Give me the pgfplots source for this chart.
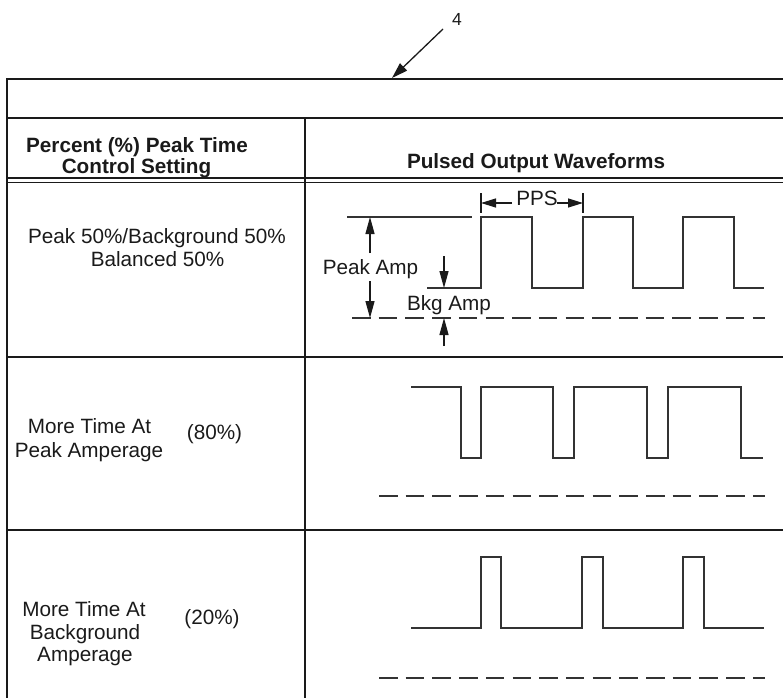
\documentclass[border=0pt]{standalone}
\usepackage{pgfplots}
\pgfplotsset{compat=1.18}
\usepackage{fontspec}
\setmainfont{Liberation Sans}
\usetikzlibrary{arrows.meta}
\definecolor{ink}{HTML}{1A1A1A}
\definecolor{wave}{HTML}{333333}
\newcommand{\txt}{\fontsize{20.7}{24}\selectfont}
\begin{document}
\begin{tikzpicture}
\begin{axis}[x=1pt, y=1pt, xmin=0, xmax=783, ymin=0, ymax=698, y dir=reverse,
  hide axis, clip=false]
\coordinate (BL) at (axis cs:0,698);
\coordinate (TR) at (axis cs:783,0);
% table frame
\addplot[ink, line width=1.5pt] coordinates {(7,79) (783,79)};
\addplot[ink, line width=1.5pt] coordinates {(7,118) (783,118)};
\addplot[ink, line width=1.3pt] coordinates {(7,178) (783,178)};
\addplot[ink, line width=1.3pt] coordinates {(7,182.5) (783,182.5)};
\addplot[ink, line width=1.5pt] coordinates {(7,357) (783,357)};
\addplot[ink, line width=1.5pt] coordinates {(7,530) (783,530)};
\addplot[ink, line width=1.5pt] coordinates {(7,78.3) (7,698)};
\addplot[ink, line width=1.5pt] coordinates {(305,118) (305,698)};
% reference arrow 4
\addplot[ink, line width=1.3pt, -{Triangle[length=16pt,width=10pt]}] coordinates {(443,29) (392,78)};
\node[font=\fontsize{17.5}{19}\selectfont, text=ink] at (axis cs:457,19) {4};
% headers
\node[anchor=base, font=\txt\bfseries, text=ink, inner sep=0pt] at (axis cs:137,152) {Percent (\%) Peak Time};
\node[anchor=base, font=\txt\bfseries, text=ink, inner sep=0pt] at (axis cs:136.5,173) {Control Setting};
\node[anchor=base, font=\txt\bfseries, text=ink, inner sep=0pt] at (axis cs:536,168) {Pulsed Output Waveforms};
% left column text
\node[anchor=base, font=\txt, text=ink, inner sep=0pt] at (axis cs:157,243) {Peak 50\%/Background 50\%};
\node[anchor=base, font=\txt, text=ink, inner sep=0pt] at (axis cs:157.5,266) {Balanced 50\%};
\node[anchor=base, font=\txt, text=ink, inner sep=0pt] at (axis cs:89.5,433) {More Time At};
\node[anchor=base, font=\txt, text=ink, inner sep=0pt] at (axis cs:89,457) {Peak Amperage};
\node[anchor=base, font=\txt, text=ink, inner sep=0pt] at (axis cs:214.5,439) {(80\%)};
\node[anchor=base, font=\txt, text=ink, inner sep=0pt] at (axis cs:84,616) {More Time At};
\node[anchor=base, font=\txt, text=ink, inner sep=0pt] at (axis cs:85,639) {Background};
\node[anchor=base, font=\txt, text=ink, inner sep=0pt] at (axis cs:85,661) {Amperage};
\node[anchor=base, font=\txt, text=ink, inner sep=0pt] at (axis cs:212,624) {(20\%)};
% waveform row 1
\addplot[wave, line width=1.2pt] coordinates {(347,217) (472,217)};
\addplot[wave, line width=1.2pt] coordinates {(427,288) (481,288) (481,217) (532,217) (532,288) (583,288) (583,217) (633,217) (633,288) (683,288) (683,217) (734,217) (734,288) (764,288)};
\addplot[wave, line width=1.2pt, dash pattern=on 18.5pt off 8.2pt] coordinates {(352,318) (765,318)};
% annotations row 1
\addplot[ink, line width=1.3pt, -{Triangle[length=17pt,width=9pt]}] coordinates {(370,253) (370,217)};
\addplot[ink, line width=1.3pt, -{Triangle[length=17pt,width=9pt]}] coordinates {(370,281) (370,318)};
\addplot[ink, line width=1.3pt, -{Triangle[length=17pt,width=9pt]}] coordinates {(444,256) (444,288)};
\addplot[ink, line width=1.3pt, -{Triangle[length=17pt,width=9pt]}] coordinates {(444,346) (444,318)};
\addplot[ink, line width=1.2pt] coordinates {(481,193) (481,213)};
\addplot[ink, line width=1.2pt] coordinates {(583,193) (583,213)};
\addplot[ink, line width=1.3pt, -{Triangle[length=15pt,width=9pt]}] coordinates {(512,203) (481,203)};
\addplot[ink, line width=1.3pt, -{Triangle[length=15pt,width=9pt]}] coordinates {(557,203) (583,203)};
\node[anchor=base, font=\txt, text=ink, inner sep=0pt] at (axis cs:370.5,274) {Peak Amp};
\node[anchor=base, font=\txt, text=ink, inner sep=0pt] at (axis cs:449,310) {Bkg Amp};
\node[anchor=base, font=\txt, text=ink, inner sep=0pt] at (axis cs:537,205) {PPS};
% waveform row 2
\addplot[wave, line width=1.2pt] coordinates {(411,387) (461,387) (461,458) (481,458) (481,387) (553,387) (553,458) (574,458) (574,387) (647,387) (647,458) (668,458) (668,387) (741,387) (741,458) (763,458)};
\addplot[wave, line width=1.2pt, dash pattern=on 18.5pt off 8.2pt] coordinates {(379,496) (765,496)};
% waveform row 3
\addplot[wave, line width=1.2pt] coordinates {(411,628) (481,628) (481,557) (501,557) (501,628) (582,628) (582,557) (603,557) (603,628) (683,628) (683,557) (704,557) (704,628) (764,628)};
\addplot[wave, line width=1.2pt, dash pattern=on 18.5pt off 8.2pt] coordinates {(379,678) (765,678)};
\end{axis}
\pgfresetboundingbox
\path (BL) rectangle (TR);
\end{tikzpicture}
\end{document}
